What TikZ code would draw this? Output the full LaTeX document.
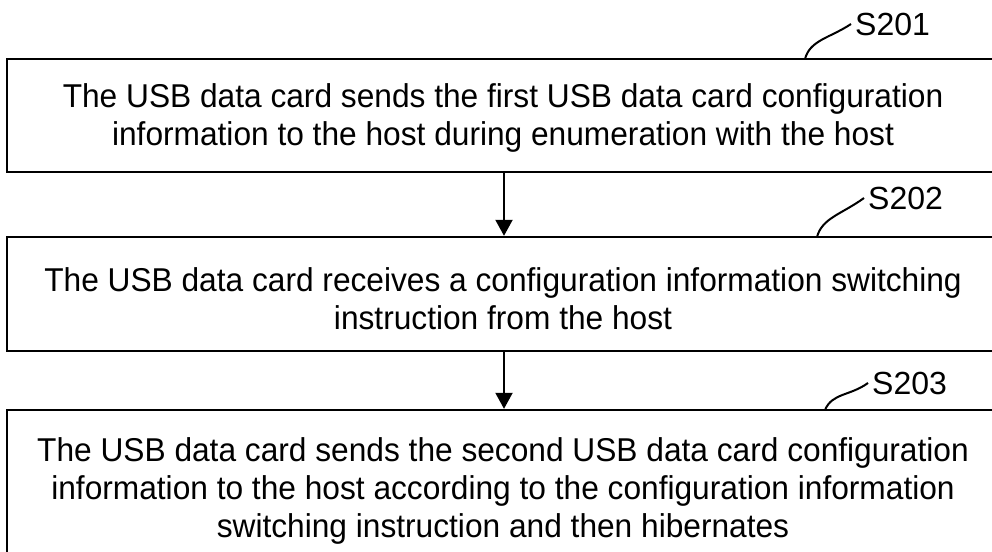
\documentclass[tikz,border=0pt]{standalone}
\usepackage{fontspec}
\setmainfont{Liberation Sans}
\newfontfamily\boxfont[FakeStretch=0.96]{Liberation Sans}
\usetikzlibrary{arrows.meta}
\begin{document}
\begin{tikzpicture}[x=1pt,y=-1pt,
  stepbox/.style={draw,line width=2.4pt,minimum width=993pt,inner sep=0pt},
  steptext/.style={align=center,inner sep=0pt,font=\boxfont\fontsize{33}{38}\selectfont},
  steplabel/.style={inner sep=4pt,font=\fontsize{32}{38}\selectfont},
  flow/.style={line width=2pt,-{Triangle[width=17pt,length=16pt]}},
  leader/.style={line width=2pt}]
\useasboundingbox (0,0) rectangle (992,551);
\clip (0,0) rectangle (992,551);
\node[stepbox,minimum height=113pt] (b1) at (503.5,115.5) {};
\node[stepbox,minimum height=114pt] (b2) at (503.5,294) {};
\node[stepbox,minimum height=162pt] (b3) at (503.5,491) {};
\node[steptext] (t1) at (503,118)
  {The USB data card sends the first USB data card configuration\\information to the host during enumeration with the host};
\node[steptext] (t2) at (503,299)
  {The USB data card receives a configuration information switching\\instruction from the host};
\node[steptext] (t3) at (503,491)
  {The USB data card sends the second USB data card configuration\\information to the host according to the configuration information\\switching instruction and then hibernates};
\draw[flow] (b1.south -| 504,0) -- (b2.north -| 504,0);
\draw[flow] (b2.south -| 504,0) -- (b3.north -| 504,0);
\node[steplabel,anchor=west] (l1) at (851,24) {S201};
\node[steplabel,anchor=west] (l2) at (864,198) {S202};
\node[steplabel,anchor=west] (l3) at (868,383) {S203};
\coordinate (c1) at (805,59);
\coordinate (c2) at (817,237);
\coordinate (c3) at (825,410);
\draw[leader] (c1) .. controls (810,40) and (830,38) .. (l1.west);
\draw[leader] (c2) .. controls (822,218) and (842,214) .. (l2.west);
\draw[leader] (c3) .. controls (832,393) and (850,396) .. (l3.west);
\end{tikzpicture}
\end{document}
